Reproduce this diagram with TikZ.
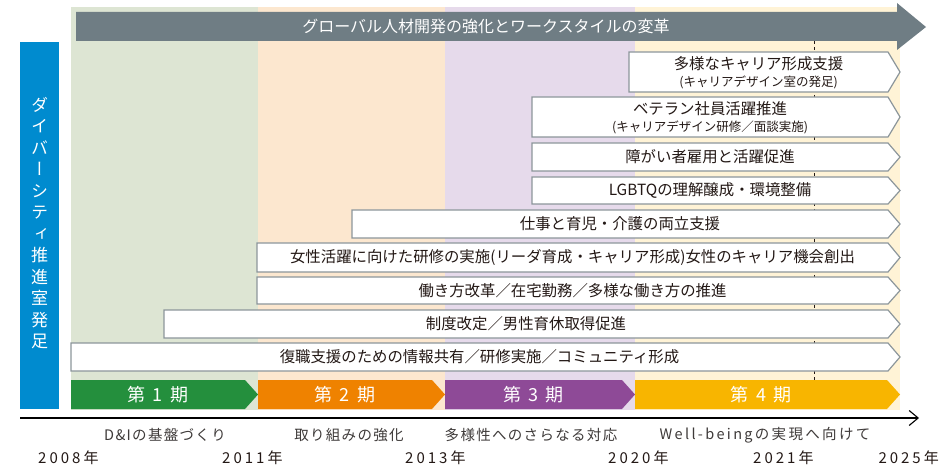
\documentclass[tikz,border=0pt]{standalone}
\usepackage{fontspec}
\setmainfont{Noto Sans CJK JP}
\newfontfamily\vjp[RawFeature=+vert]{Noto Sans CJK JP}
\usetikzlibrary{arrows.meta}
\definecolor{bgG}{HTML}{DDE5D3}
\definecolor{bgO}{HTML}{FCE7CF}
\definecolor{bgP}{HTML}{E6DAEB}
\definecolor{bgY}{HTML}{FFF3D6}
\definecolor{bannerC}{HTML}{6F7D84}
\definecolor{blueC}{HTML}{008BCF}
\definecolor{phG}{HTML}{248F3D}
\definecolor{phO}{HTML}{EF8200}
\definecolor{phP}{HTML}{8E4A97}
\definecolor{phY}{HTML}{F8B500}
\definecolor{lineC}{HTML}{8C969B}
\definecolor{txt}{HTML}{231815}
\definecolor{txt2}{HTML}{3E3A39}
\newcommand\rowbox[4]{%
  \draw[rowline] (#2,#3) -- (888,#3) -- (900,{(#3+#4)/2}) -- (888,#4) -- (#2,#4) -- cycle;
  \coordinate (#1) at ({(#2+888)/2},{(#3+#4)/2});}
\newcommand\phasebar[6]{%
  \fill[#4] (#2,380) -- ({#3-13},380) -- (#3,394.5) -- ({#3-13},409) -- (#2,409) -- cycle;
  \node[phasetext] (#1) at ({(#2+#3-13)/2},394.5) {#5\hspace{3pt} #6};}
\begin{document}
\begin{tikzpicture}[x=1pt,y=-1pt,
  rowline/.style={draw=lineC,line width=1.2pt,fill=white},
  rowtext/.style={text=txt,font=\fontsize{15.4}{18}\selectfont,inner sep=0pt},
  subtext/.style={text=txt,font=\fontsize{12.5}{15}\selectfont,inner sep=0pt},
  phasetext/.style={text=white,font=\fontsize{18}{20}\selectfont,inner sep=0pt},
  yeartext/.style={text=txt,font=\fontsize{15}{18}\selectfont\addfontfeature{LetterSpace=20},inner sep=0pt,anchor=west},
  stagetext/.style={text=txt2,font=\fontsize{14.5}{18}\selectfont\addfontfeature{LetterSpace=9},inner sep=0pt}]
\useasboundingbox (0,0) rectangle (940,465);
% column backgrounds
\fill[bgG] (71,7) rectangle (258,410);
\fill[bgO] (258,7) rectangle (445,410);
\fill[bgP] (445,7) rectangle (635,410);
\fill[bgY] (635,7) rectangle (900,410);
% banner arrow
\fill[bannerC] (76,12) -- (897,12) -- (897,3) -- (926,27) -- (897,50) -- (897,41) -- (76,41) -- cycle;
\node[text=white,font=\fontsize{16}{18}\selectfont,inner sep=0pt] (banner) at (486,26.5) {グローバル人材開発の強化とワークスタイルの変革};
% dashed 2021 line
\coordinate (dtop) at (814,41);
\coordinate (dbot) at (814,409);
\draw[txt,line width=0.9pt,dash pattern=on 3pt off 3pt] (dtop) -- (dbot);
% blue bar
\fill[blueC] (20,42) rectangle (59,409);
\node[text=white,font=\vjp\fontsize{17}{21.5}\selectfont,align=center,inner sep=0pt] (vert) at (39.5,223)
  {ダ\\イ\\バ\\ー\\シ\\テ\\ィ\\推\\進\\室\\発\\足};
% rows
\rowbox{r1}{629}{52}{92}
\node[rowtext] (t1) at ([yshift=8]r1) {多様なキャリア形成支援};
\node[subtext] (s1) at ([yshift=-10.5]r1) {(キャリアデザイン室の発足)};
\rowbox{r2}{532}{97}{137}
\node[rowtext] (t2) at ([yshift=8]r2) {ベテラン社員活躍推進};
\node[subtext] (s2) at ([yshift=-10.5]r2) {(キャリアデザイン研修／面談実施)};
\rowbox{r3}{532}{143}{171}
\node[rowtext] (t3) at (r3) {障がい者雇用と活躍促進};
\rowbox{r4}{532}{177}{204}
\node[rowtext] (t4) at (r4) {LGBTQの理解醸成・環境整備};
\rowbox{r5}{352}{210}{238}
\node[rowtext] (t5) at (r5) {仕事と育児・介護の両立支援};
\rowbox{r6}{257}{243}{272}
\node[rowtext] (t6) at (r6) {女性活躍に向けた研修の実施(リーダ育成・キャリア形成)女性のキャリア機会創出};
\rowbox{r7}{257}{277}{304}
\node[rowtext] (t7) at (r7) {働き方改革／在宅勤務／多様な働き方の推進};
\rowbox{r8}{164}{310}{338}
\node[rowtext] (t8) at (r8) {制度改定／男性育休取得促進};
\rowbox{r9}{71}{343}{371}
\node[rowtext] (t9) at (r9) {復職支援のための情報共有／研修実施／コミュニティ形成};
% phases
\phasebar{p1}{71}{258}{phG}{第\hspace{3pt} 1}{期}
\phasebar{p2}{258}{445}{phO}{第\hspace{3pt} 2}{期}
\phasebar{p3}{445}{635}{phP}{第\hspace{3pt} 3}{期}
\phasebar{p4}{635}{900}{phY}{第\hspace{3pt} 4}{期}
% axis
\coordinate (ax0) at (20,418);
\coordinate (ax1) at (919,418);
\draw[black,line width=1.1pt,-{Straight Barb[length=9pt,width=15pt,line width=1.1pt]}] (ax0) -- (ax1);
% stage labels
\node[stagetext] (st1) at (165,435) {D\&Iの基盤づくり};
\node[stagetext] (st2) at (349,435) {取り組みの強化};
\node[stagetext] (st3) at (531,435) {多様性へのさらなる対応};
\node[stagetext,font=\fontsize{14.5}{18}\selectfont\addfontfeature{LetterSpace=16}] (st4) at (765,435) {Well-beingの実現へ向けて};
% years
\node[yeartext] (y1) at (38,458) {2008年};
\node[yeartext] (y2) at (222,458) {2011年};
\node[yeartext] (y3) at (405,458) {2013年};
\node[yeartext] (y4) at (608,458) {2020年};
\node[yeartext] (y5) at (753,458) {2021年};
\node[yeartext,anchor=east] (y6) at (939,458) {2025年};
\end{tikzpicture}
\end{document}
